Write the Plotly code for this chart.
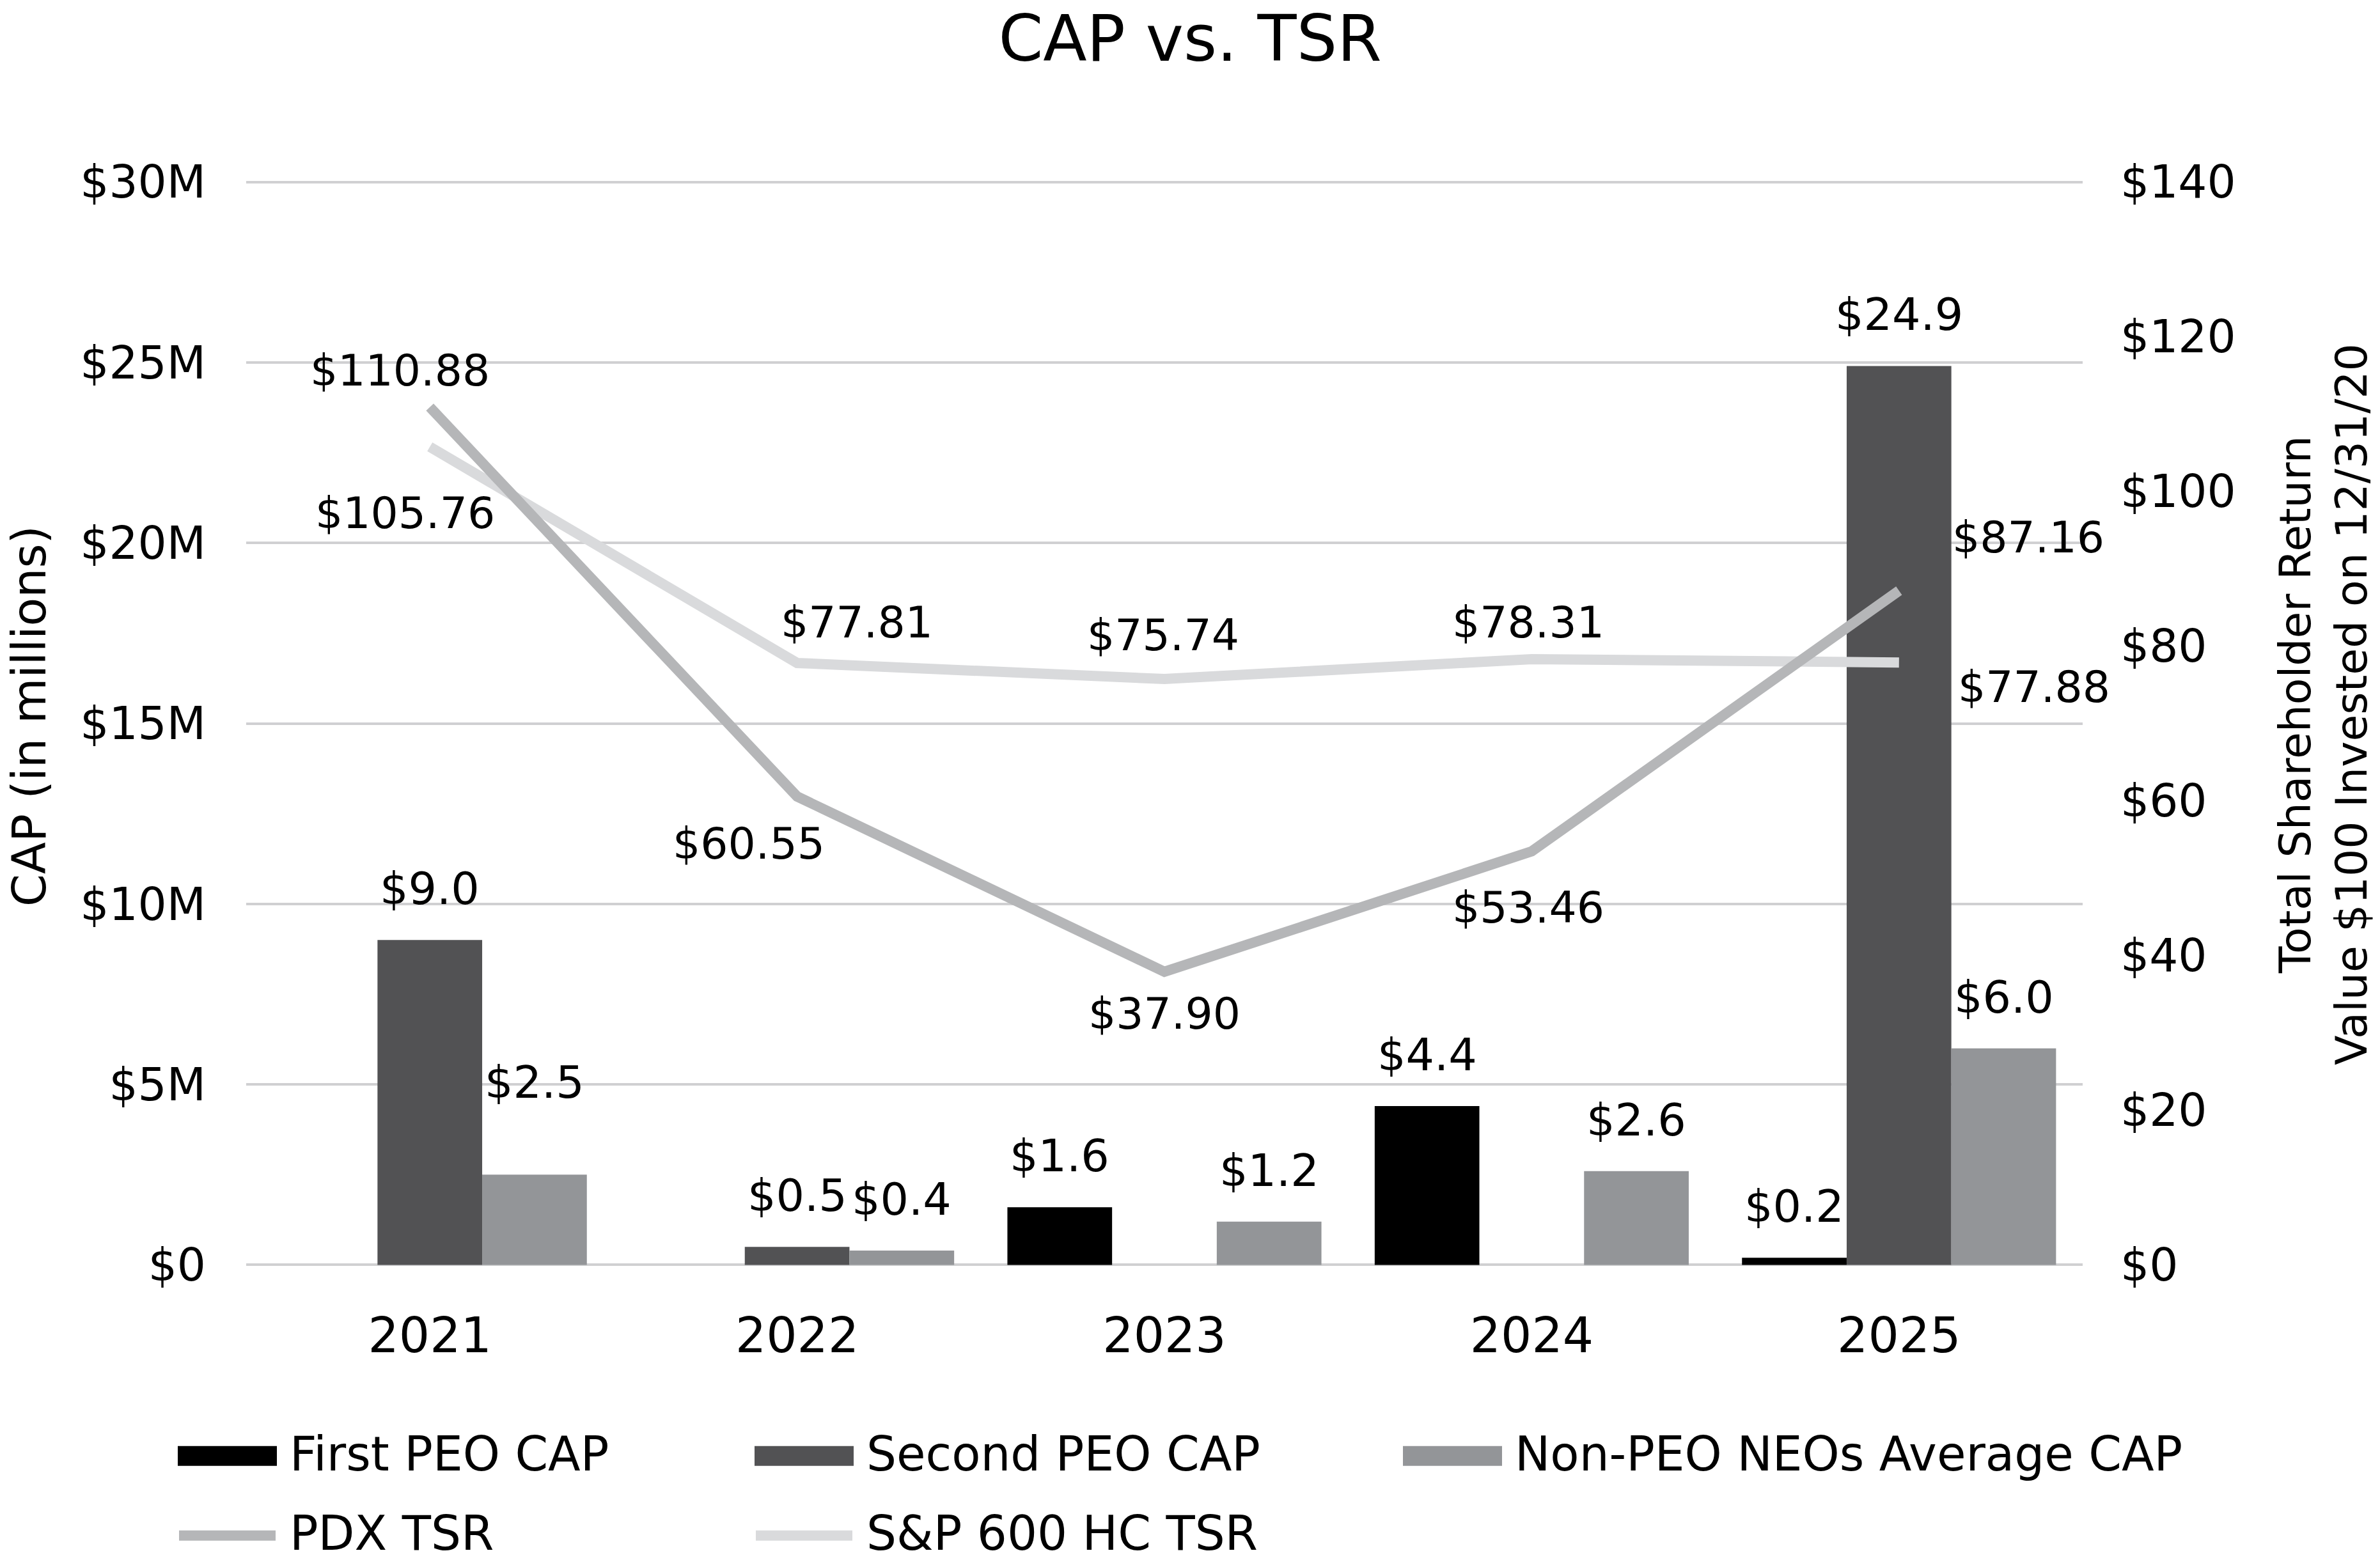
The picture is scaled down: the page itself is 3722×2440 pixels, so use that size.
import plotly.graph_objects as go

# ---------------- data ----------------
years = ["2021", "2022", "2023", "2024", "2025"]
first_peo_cap = [None, None, 1.6, 4.4, 0.2]
second_peo_cap = [9.0, 0.5, None, None, 24.9]
non_peo_cap = [2.5, 0.4, 1.2, 2.6, 6.0]
pdx_tsr = [110.88, 60.55, 37.90, 53.46, 87.16]
sp600_tsr = [105.76, 77.81, 75.74, 78.31, 77.88]

left_ticks = [0, 5, 10, 15, 20, 25, 30]
left_tick_labels = ["$0", "$5M", "$10M", "$15M", "$20M", "$25M", "$30M"]
right_ticks = [0, 20, 40, 60, 80, 100, 120, 140]
right_tick_labels = ["$0", "$20", "$40", "$60", "$80", "$100", "$120", "$140"]

bar_names = ["First PEO CAP", "Second PEO CAP", "Non-PEO NEOs Average CAP"]
line_names = ["PDX TSR", "S&P 600 HC TSR"]

# ---------------- style ----------------
OFF = 8  # default page body margin
W, H = 3722 - OFF, 2440 - OFF
Y_TOP, Y_ZERO = 285, 1978          # page px of axis max / zero
LEFT_MAX, RIGHT_MAX = 30, 140
EPS = 0.08                          # small padding so edge gridlines are drawn
px_per_unit = (Y_ZERO - Y_TOP) / LEFT_MAX
pad_px = EPS * px_per_unit
PLOT_X0, PLOT_X1 = 385, 3257
PLOT_Y0, PLOT_Y1 = Y_TOP - pad_px, Y_ZERO + pad_px
L, T = PLOT_X0 - OFF, PLOT_Y0 - OFF
R, B = 3722 - PLOT_X1, 2440 - PLOT_Y1
PW, PH = PLOT_X1 - PLOT_X0, PLOT_Y1 - PLOT_Y0
FONT = "DejaVu Sans"
bar_colors = ["#000000", "#525254", "#939598"]
line_colors = ["#b5b6b8", "#d9dadc"]
BW = 0.285
bar_centers = [-BW, 0.0, BW]
bar_label_lift = 80
bar_label_lift_special = {(2, 0): 144}
pdx_shift = [(-47, 57), (-76, -74), (0, -66), (-5, -88), (202, 83)]
sp_shift = [(-39, -104), (93, 64), (-2, 69), (-5, 57), (211, -38)]


def px2x(px):
    return (px - PLOT_X0) / PW


def py2y(py):
    return (PLOT_Y1 - py) / PH


xpos = list(range(len(years)))
bar_series = [first_peo_cap, second_peo_cap, non_peo_cap]

fig = go.Figure()
for k, (vals, name, col) in enumerate(zip(bar_series, bar_names, bar_colors)):
    fig.add_trace(go.Bar(
        x=xpos, y=vals, name=name, marker=dict(color=col, line=dict(width=0)),
        width=BW, offset=bar_centers[k] - BW / 2, yaxis="y", showlegend=False,
    ))

for vals, name, col in [(sp600_tsr, line_names[1], line_colors[1]),
                        (pdx_tsr, line_names[0], line_colors[0])]:
    fig.add_trace(go.Scatter(
        x=xpos, y=vals, name=name, mode="lines", yaxis="y2",
        line=dict(color=col, width=16), showlegend=False,
    ))

annotations = []
for k, vals in enumerate(bar_series):
    for i, v in enumerate(vals):
        if v is None:
            continue
        annotations.append(dict(
            x=i + bar_centers[k], y=v, xref="x", yref="y", text=f"${v:.1f}",
            showarrow=False, yanchor="middle",
            yshift=bar_label_lift_special.get((k, i), bar_label_lift),
            font=dict(size=70, color="black", family=FONT),
        ))
for vals, shifts in [(pdx_tsr, pdx_shift), (sp600_tsr, sp_shift)]:
    for i, v in enumerate(vals):
        annotations.append(dict(
            x=i, y=v, xref="x", yref="y2", text=f"${v:.2f}", showarrow=False,
            xshift=shifts[i][0], yshift=shifts[i][1], yanchor="middle",
            font=dict(size=68, color="black", family=FONT),
        ))
annotations.append(dict(
    x=px2x(46), y=py2y(1120), xref="paper", yref="paper", text="CAP (in millions)",
    textangle=-90, showarrow=False, xanchor="center", yanchor="middle",
    font=dict(size=73, color="black", family=FONT),
))
annotations.append(dict(
    x=px2x(3634), y=py2y(1101), xref="paper", yref="paper",
    text="Total Shareholder Return<br>Value $100 Invested on 12/31/20",
    textangle=-90, showarrow=False, xanchor="center", yanchor="middle",
    font=dict(size=68, color="black", family=FONT),
))

shapes = []
row_y = [2273, 2397]
col_sym = [278, 1180, 2194]
sym_w = 155
legend_items = [
    ("bar", bar_names[0], bar_colors[0], 0, 0),
    ("bar", bar_names[1], bar_colors[1], 1, 0),
    ("bar", bar_names[2], bar_colors[2], 2, 0),
    ("line", line_names[0], line_colors[0], 0, 1),
    ("line", line_names[1], line_colors[1], 1, 1),
]
for kind, name, col, c, r in legend_items:
    x0 = col_sym[c]
    cy = row_y[r] + 4
    if kind == "bar":
        shapes.append(dict(type="rect", xref="paper", yref="paper",
                           x0=px2x(x0), x1=px2x(x0 + sym_w),
                           y0=py2y(cy - 16), y1=py2y(cy + 15),
                           fillcolor=col, line=dict(width=0)))
    else:
        shapes.append(dict(type="line", xref="paper", yref="paper",
                           x0=px2x(x0 + 2), x1=px2x(x0 + sym_w - 2),
                           y0=py2y(cy), y1=py2y(cy),
                           line=dict(color=col, width=16)))
    annotations.append(dict(
        x=px2x(x0 + sym_w + 18), y=py2y(row_y[r]), xref="paper", yref="paper",
        text=name, showarrow=False, xanchor="left", yanchor="middle",
        font=dict(size=74, color="black", family=FONT),
    ))

fig.update_layout(
    width=W, height=H,
    margin=dict(l=L, r=R, t=T, b=B, autoexpand=False),
    paper_bgcolor="white", plot_bgcolor="white",
    font=dict(family=FONT, color="black", size=70),
    barmode="overlay",
    title=dict(text="CAP vs. TSR", x=(1861 - OFF) / W, xref="container", xanchor="center",
               y=1 - (60 - OFF) / H, yref="container", yanchor="middle",
               font=dict(size=100, color="black", family=FONT)),
    xaxis=dict(range=[-0.5, len(years) - 0.5], tickvals=xpos, ticktext=years,
               showgrid=False, zeroline=False, showline=False, ticks="",
               ticklabelstandoff=int(round(60 - pad_px)), tickfont=dict(size=76, family=FONT)),
    yaxis=dict(range=[-EPS, LEFT_MAX + EPS], tickvals=left_ticks, ticktext=left_tick_labels,
               showgrid=True, gridcolor="#d0d0d2", gridwidth=4, zeroline=False,
               showline=False, ticks="", ticklabelstandoff=62,
               tickfont=dict(size=71, family=FONT)),
    yaxis2=dict(range=[-EPS * RIGHT_MAX / LEFT_MAX, RIGHT_MAX + EPS * RIGHT_MAX / LEFT_MAX],
                tickvals=right_ticks, ticktext=right_tick_labels,
                overlaying="y", side="right", showgrid=False, zeroline=False,
                showline=False, ticks="", ticklabelstandoff=58,
                tickfont=dict(size=71, family=FONT)),
    annotations=annotations,
    shapes=shapes,
    showlegend=False,
)

fig.write_html("out.html")
